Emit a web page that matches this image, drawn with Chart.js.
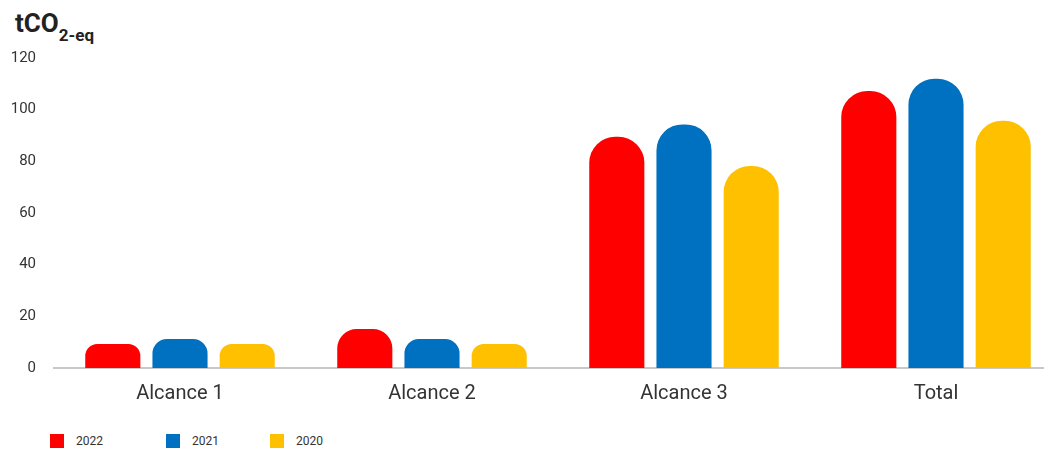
<!DOCTYPE html>
<html>
<head>
<meta charset="utf-8">
<script src="https://cdn.jsdelivr.net/npm/chart.js@4.4.1/dist/chart.umd.min.js"></script>
<style>
  html, body { margin: 0; padding: 0; background: #fff; overflow: hidden; width: 1044px; height: 450px; }
  #wrap { position: relative; width: 1044px; height: 450px; overflow: hidden; }
  #c { position: absolute; left: 0; top: 0; }
  #title { position: absolute; left: 15px; top: 6px; font-family: Roboto, sans-serif; font-weight: 700; font-size: 26px; color: #222; line-height: 34px; }
  #title sub { font-size: 17px; vertical-align: -9px; line-height: 0; }
  .leg { position: absolute; top: 434px; display: flex; align-items: center; font-family: Roboto, sans-serif; font-size: 12px; color: #333; }
  .leg i { display: inline-block; width: 14px; height: 14px; margin-right: 12px; }
</style>
</head>
<body>
<div id="wrap">
  <div id="title">tCO<sub>2-eq</sub></div>
  <canvas id="c" width="1066" height="420"></canvas>
</div>
<script>
const categories = ['Alcance 1', 'Alcance 2', 'Alcance 3', 'Total'];
const seriesNames = ['2022', '2021', '2020'];
const values2022 = [9.3, 15.1, 89.5, 107.2];
const values2021 = [11.2, 11.2, 94.3, 112.0];
const values2020 = [9.3, 9.3, 78.2, 95.7];
const yTicks = [0, 20, 40, 60, 80, 100, 120];

const colors = ['#FF0000', '#0070C0', '#FFC000'];
const seriesValues = [values2022, values2021, values2020];

const datasets = seriesNames.map((name, i) => ({
  label: name,
  data: seriesValues[i],
  backgroundColor: colors[i],
  borderWidth: 0,
  borderRadius: { topLeft: 26, topRight: 26, bottomLeft: 0, bottomRight: 0 },
  borderSkipped: 'bottom',
  categoryPercentage: 0.8,
  barPercentage: 0.82
}));

// HTML legend built from series
const legendLefts = [50, 166, 270];
seriesNames.forEach((name, i) => {
  const d = document.createElement('div');
  d.className = 'leg';
  d.style.left = legendLefts[i] + 'px';
  d.innerHTML = '<i style="background:' + colors[i] + '"></i><span>' + name + '</span>';
  document.getElementById('wrap').appendChild(d);
});

new Chart(document.getElementById('c'), {
  type: 'bar',
  data: { labels: categories, datasets },
  options: {
    responsive: false,
    devicePixelRatio: 1,
    animation: false,
    layout: { padding: { top: 58, right: 4, bottom: 0, left: 0 } },
    plugins: { legend: { display: false }, tooltip: { enabled: false } },
    scales: {
      x: {
        grid: { display: false, drawTicks: false },
        border: { display: true, color: '#c8c8c8', width: 2 },
        ticks: { color: '#333', font: { family: 'Roboto', size: 20 }, padding: 14 },
        afterFit: s => { s.height = 52; }
      },
      y: {
        min: 0, max: 120,
        afterBuildTicks: s => { s.ticks = yTicks.map(v => ({ value: v })); },
        grid: { display: false, drawTicks: false },
        border: { display: false },
        ticks: { color: '#333', font: { family: 'Roboto', size: 15 }, padding: 18 },
        afterFit: s => { s.width = 54; }
      }
    }
  }
});
</script>
</body>
</html>
